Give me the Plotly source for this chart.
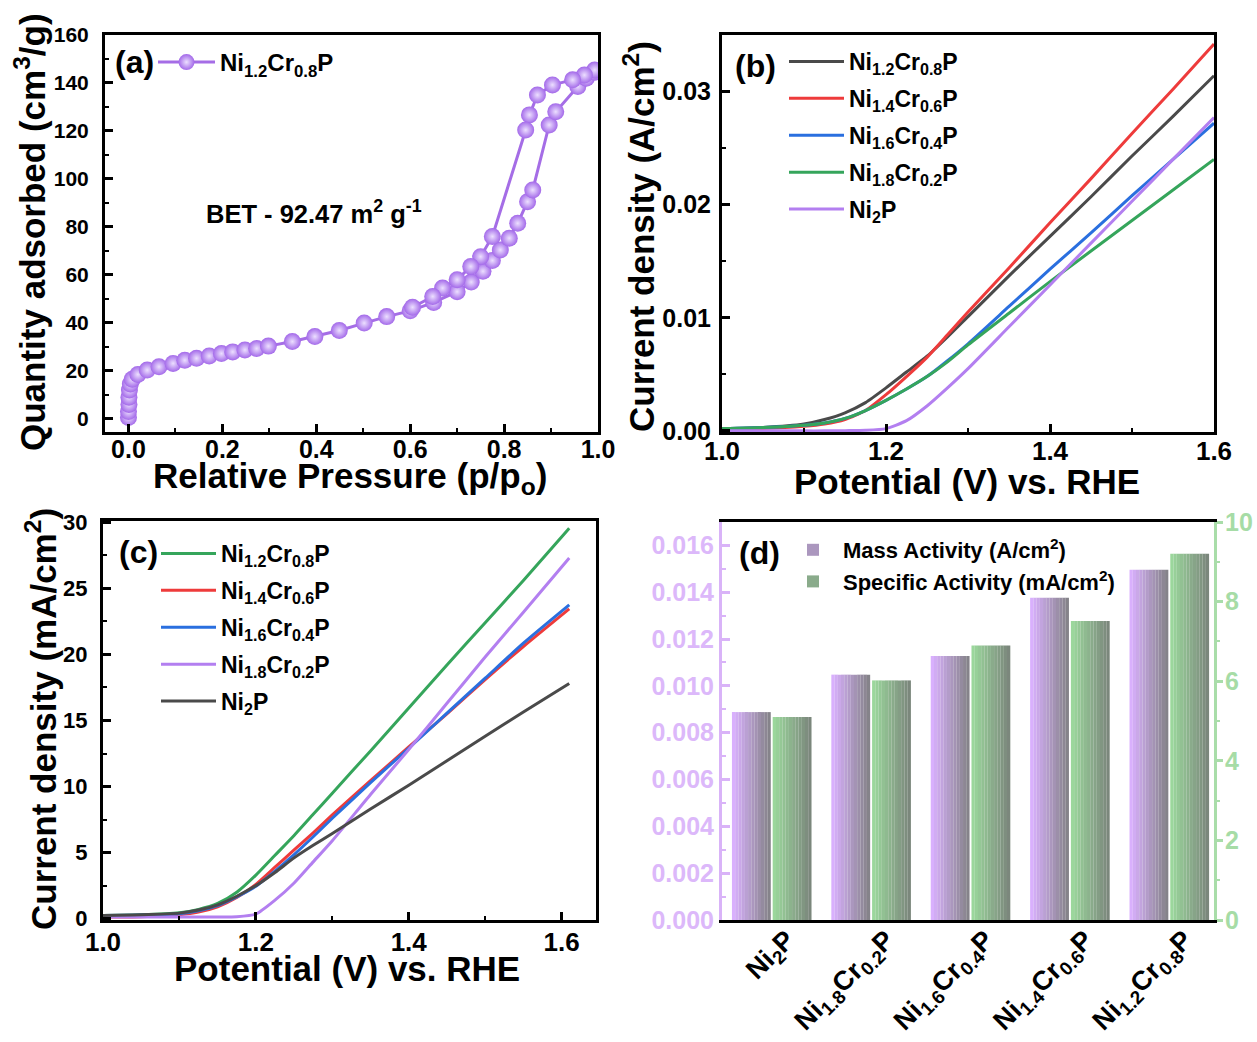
import plotly.graph_objects as go

W, H = 1257, 1042
FONT = "Liberation Sans, Arial, sans-serif"

# ---------------- (a) N2 adsorption-desorption isotherm ----------------
bet_p_ads = [0.000, 0.000, 0.001, 0.001, 0.002, 0.004, 0.008, 0.020, 0.040, 0.065,
             0.095, 0.120, 0.145, 0.172, 0.198, 0.222, 0.248, 0.273, 0.298, 0.349,
             0.397, 0.449, 0.502, 0.550, 0.600, 0.650, 0.700, 0.730, 0.755, 0.775,
             0.792, 0.811, 0.829, 0.850, 0.861, 0.896, 0.910, 0.957, 0.975, 0.993]
bet_q_ads = [0.5, 3.0, 6.0, 9.0, 12.0, 14.5, 16.5, 18.5, 20.3, 21.7,
             23.1, 24.4, 25.2, 26.2, 27.2, 27.9, 28.7, 29.3, 30.3, 32.2,
             34.3, 36.8, 39.9, 42.6, 45.0, 48.5, 53.0, 57.0, 61.5, 66.0,
             70.4, 75.3, 81.5, 90.5, 95.4, 122.5, 128.0, 138.5, 142.0, 144.5]
bet_p_des = [0.993, 0.971, 0.946, 0.903, 0.871, 0.854, 0.846, 0.775, 0.750, 0.729,
             0.700, 0.669, 0.648, 0.605]
bet_q_des = [145.4, 143.3, 141.3, 139.2, 135.0, 126.7, 120.4, 76.0, 67.6, 63.5,
             58.0, 54.5, 51.0, 46.5]

# ---------------- (b) LSV, A/cm2 ----------------
b_v = [1.0, 1.05, 1.1, 1.125, 1.15, 1.175, 1.2, 1.225, 1.25, 1.275, 1.3, 1.35, 1.4, 1.45, 1.5, 1.55, 1.6]
b_ni12 = [0.0002, 0.0003, 0.0006, 0.0010, 0.0016, 0.0025, 0.0038, 0.0052, 0.0066, 0.0083, 0.0101, 0.0137, 0.0172, 0.0207, 0.0243, 0.0278, 0.0314]
b_ni14 = [0.00015, 0.0002, 0.0004, 0.0006, 0.0010, 0.0018, 0.0032, 0.0048, 0.0065, 0.0085, 0.0105, 0.0144, 0.0184, 0.0223, 0.0263, 0.0302, 0.0342]
b_ni16 = [0.0002, 0.0003, 0.0005, 0.0007, 0.0011, 0.0018, 0.0027, 0.0037, 0.0048, 0.0062, 0.0077, 0.0110, 0.0143, 0.0175, 0.0208, 0.0240, 0.0272]
b_ni18 = [0.0002, 0.0003, 0.0005, 0.0007, 0.0011, 0.0018, 0.0027, 0.0037, 0.0048, 0.0061, 0.0076, 0.0104, 0.0132, 0.0159, 0.0186, 0.0213, 0.0240]
b_ni2 = [0.0000, 0.0000, 0.0000, 0.0000, 0.00002, 0.00005, 0.0002, 0.0009, 0.0022, 0.0038, 0.0055, 0.0092, 0.0129, 0.0166, 0.0203, 0.0240, 0.0277]

# ---------------- (c) LSV, mA/cm2 ----------------
c_v = [1.0, 1.05, 1.1, 1.125, 1.15, 1.175, 1.2, 1.225, 1.25, 1.275, 1.3, 1.35, 1.4, 1.45, 1.5, 1.55, 1.61]
c_ni12 = [0.25, 0.30, 0.45, 0.70, 1.15, 2.0, 3.3, 4.8, 6.3, 7.9, 9.5, 12.7, 15.95, 19.2, 22.4, 25.6, 29.55]
c_ni14 = [0.12, 0.15, 0.30, 0.50, 0.90, 1.6, 2.6, 3.9, 5.2, 6.5, 7.85, 10.45, 13.0, 15.5, 18.1, 20.6, 23.45]
c_ni16 = [0.25, 0.28, 0.38, 0.60, 1.00, 1.65, 2.45, 3.6, 4.85, 6.2, 7.6, 10.3, 12.9, 15.55, 18.2, 20.85, 23.75]
c_ni18 = [0.12, 0.12, 0.12, 0.12, 0.13, 0.15, 0.35, 1.4, 2.7, 4.3, 5.9, 9.4, 12.8, 16.3, 19.8, 23.2, 27.3]
c_ni2 = [0.25, 0.30, 0.42, 0.65, 1.05, 1.7, 2.5, 3.5, 4.6, 5.55, 6.45, 8.3, 10.1, 11.95, 13.8, 15.65, 17.8]

# ---------------- (d) activities ----------------
d_cats = ["Ni<sub>2</sub>P", "Ni<sub>1.8</sub>Cr<sub>0.2</sub>P", "Ni<sub>1.6</sub>Cr<sub>0.4</sub>P",
          "Ni<sub>1.4</sub>Cr<sub>0.6</sub>P", "Ni<sub>1.2</sub>Cr<sub>0.8</sub>P"]
mass_act = [0.00888, 0.01048, 0.01128, 0.01376, 0.01496]
spec_act = [5.10, 6.02, 6.90, 7.51, 9.20]

names = ["Ni<sub>1.2</sub>Cr<sub>0.8</sub>P", "Ni<sub>1.4</sub>Cr<sub>0.6</sub>P",
         "Ni<sub>1.6</sub>Cr<sub>0.4</sub>P", "Ni<sub>1.8</sub>Cr<sub>0.2</sub>P", "Ni<sub>2</sub>P"]

BLACK = "#4a4a4a"
RED = "#ee3b3b"
BLUE = "#2a6fdf"
GREEN = "#35a55b"
PURP = "#b37ff0"

fig = go.Figure()

# (a)
fig.add_trace(go.Scatter(
    x=bet_p_ads + bet_p_des, y=bet_q_ads + bet_q_des, mode="lines+markers",
    name="Ni<sub>1.2</sub>Cr<sub>0.8</sub>P", showlegend=True,
    line=dict(color="#a56de6", width=3),
    marker=dict(size=17, color="#a369e9", gradient=dict(type="radial", color="#ecdfff"),
                line=dict(width=0)),
    xaxis="x", yaxis="y", legend="legend"))

# (b)
for k, (yv, nm, col) in enumerate(zip([b_ni12, b_ni14, b_ni16, b_ni18, b_ni2], names,
                                      [BLACK, RED, BLUE, GREEN, PURP])):
    fig.add_trace(go.Scatter(x=b_v, y=yv, mode="lines", name=nm, legendgroup=f"b{k}",
                             line=dict(color=col, width=3, shape="spline", smoothing=0.6),
                             xaxis="x2", yaxis="y2", legend="legend2"))

# (c)
for k, (yv, nm, col) in enumerate(zip([c_ni12, c_ni14, c_ni16, c_ni18, c_ni2], names,
                                      [GREEN, RED, BLUE, PURP, BLACK])):
    fig.add_trace(go.Scatter(x=c_v, y=yv, mode="lines", name=nm, legendgroup=f"c{k}",
                             line=dict(color=col, width=3, shape="spline", smoothing=0.6),
                             xaxis="x3", yaxis="y3", legend="legend3"))


# (d) bars with horizontal gradient (sliced)
def lerp(c1, c2, t):
    a = [int(c1[i:i + 2], 16) for i in (1, 3, 5)]
    b = [int(c2[i:i + 2], 16) for i in (1, 3, 5)]
    return "#" + "".join(f"{round(a[k] + (b[k] - a[k]) * t):02x}" for k in range(3))


NS = 12
BW = 0.39
for vals, yax, off0, c1, c2, nm, grp in [
        (mass_act, "y4", -0.40, "#d9b0fd", "#85838a", "Mass Activity (A/cm<sup>2</sup>)", "d0"),
        (spec_act, "y5", 0.01, "#9bd79c", "#7b877c", "Specific Activity (mA/cm<sup>2</sup>)", "d1")]:
    for i in range(NS):
        t = i / (NS - 1)
        fig.add_trace(go.Bar(
            x=d_cats, y=vals, width=BW / NS * 1.02, offset=off0 + i * BW / NS,
            marker=dict(color=lerp(c1, c2, t), line=dict(width=0)),
            name=nm, showlegend=(i == NS // 2), legendgroup=grp,
            xaxis="x4", yaxis=yax, legend="legend4"))


def px_x(p):
    return p / W


def px_y(p):
    return 1 - p / H


frame = dict(showline=True, linecolor="black", linewidth=3, mirror=True,
             ticks="inside", ticklen=8, tickwidth=2.5, tickcolor="black",
             showgrid=False, zeroline=False, automargin=False)
minor_in = dict(ticks="inside", ticklen=4, tickwidth=2, tickcolor="black")


def tf(s, c="black"):
    return dict(family=FONT, size=s, color=c, weight="bold")


layout = dict(
    width=W, height=H, margin=dict(l=0, r=0, t=0, b=0),
    paper_bgcolor="white", plot_bgcolor="white", showlegend=True,
    font=dict(family=FONT, color="black", weight="bold"),
    barmode="overlay",
    xaxis=dict(domain=[px_x(105), px_x(598)], range=[-0.05, 1.0], dtick=0.2, tick0=0,
               tickformat=".1f", tickfont=tf(25), ticklabelstandoff=-7,
               minor=dict(dtick=0.1, **minor_in), anchor="y", **frame),
    yaxis=dict(domain=[px_y(432), px_y(35)], range=[-5.5, 160], dtick=20, tick0=0,
               tickfont=tf(21), ticklabelstandoff=9,
               minor=dict(dtick=10, **minor_in), anchor="x", **frame),
    xaxis2=dict(domain=[px_x(722), px_x(1214)], range=[1.0, 1.6], dtick=0.2, tick0=1.0,
                tickformat=".1f", tickfont=tf(26), ticklabelstandoff=-6,
                minor=dict(dtick=0.1, **minor_in), anchor="y2", **frame),
    yaxis2=dict(domain=[px_y(432), px_y(35)], range=[-0.0001, 0.035], dtick=0.01, tick0=0,
                tickformat=".2f", tickfont=tf(25), ticklabelstandoff=3,
                minor=dict(dtick=0.005, **minor_in), anchor="x2", **frame),
    xaxis3=dict(domain=[px_x(103), px_x(596)], range=[1.0, 1.645], dtick=0.2, tick0=1.0,
                tickformat=".1f", tickfont=tf(26), ticklabelstandoff=-3,
                minor=dict(dtick=0.1, **minor_in), anchor="y3", **frame),
    yaxis3=dict(domain=[px_y(920), px_y(521)], range=[-0.1, 30.1], dtick=5, tick0=0,
                tickfont=tf(22), ticklabelstandoff=8,
                minor=dict(dtick=2.5, **minor_in), anchor="x3", **frame),
    xaxis4=dict(domain=[px_x(722), px_x(1214)], range=[-0.5, 4.45], type="category",
                showline=True, linecolor="black", linewidth=3, mirror=True, ticks="",
                tickangle=-45, tickfont=tf(27), ticklabelstandoff=-10, ticklabelshift=15,
                showgrid=False, zeroline=False, automargin=False, anchor="y4"),
    yaxis4=dict(domain=[px_y(920), px_y(522)], range=[0, 0.017], dtick=0.002, tick0=0,
                tickformat=".3f", tickfont=tf(25, "#dcb8fa"), showline=True,
                linecolor="#d9b3f8", linewidth=3, ticks="inside", ticklen=8, tickwidth=2.5,
                tickcolor="#d9b3f8",
                minor=dict(dtick=0.001, ticks="inside", ticklen=4, tickwidth=2, tickcolor="#d9b3f8"),
                showgrid=False, zeroline=False, automargin=False, anchor="x4"),
    yaxis5=dict(domain=[px_y(920), px_y(522)], range=[0, 10], dtick=2, tick0=0,
                tickfont=tf(25, "#a6dca6"), showline=True, side="right", overlaying="y4",
                linecolor="#a9dda9", linewidth=3, ticks="outside", ticklen=6, tickwidth=2.5,
                tickcolor="#a9dda9", ticklabelstandoff=-3,
                minor=dict(dtick=1, ticks="outside", ticklen=3, tickwidth=2, tickcolor="#a9dda9"),
                showgrid=False, zeroline=False, automargin=False, anchor="x4"),
    legend=dict(x=px_x(153), y=px_y(40), xanchor="left", yanchor="top",
                bgcolor="rgba(0,0,0,0)", font=tf(24), itemwidth=57),
    legend2=dict(x=px_x(784), y=px_y(40), xanchor="left", yanchor="top",
                 bgcolor="rgba(0,0,0,0)", font=tf(23), itemwidth=55, tracegroupgap=4),
    legend3=dict(x=px_x(156), y=px_y(532), xanchor="left", yanchor="top",
                 bgcolor="rgba(0,0,0,0)", font=tf(23), itemwidth=55, tracegroupgap=4),
    legend4=dict(x=px_x(783), y=px_y(529), xanchor="left", yanchor="top",
                 bgcolor="rgba(0,0,0,0)", font=tf(22), itemwidth=50, tracegroupgap=0),
)
fig.update_layout(**layout)

ann = [
    ("(a)", 113, 62, 32, 0, "left"),
    ("(b)", 733, 66, 32, 0, "left"),
    ("(c)", 117, 552, 32, 0, "left"),
    ("(d)", 737, 553, 32, 0, "left"),
    ("BET - 92.47 m<sup>2</sup> g<sup>-1</sup>", 314, 212, 25.5, 0, "center"),
    ("Quantity adsorbed (cm<sup>3</sup>/g)", 30, 232, 35, -90, "center"),
    ("Relative Pressure (p/p<sub>o</sub>)", 350, 478, 35, 0, "center"),
    ("Current density (A/cm<sup>2</sup>)", 639, 237, 35, -90, "center"),
    ("Potential (V) vs. RHE", 967, 481, 35, 0, "center"),
    ("Current density (mA/cm<sup>2</sup>)", 41, 719, 35, -90, "center"),
    ("Potential (V) vs. RHE", 347, 968, 35, 0, "center"),
]
for txt, x, y, s, ang, xa in ann:
    fig.add_annotation(text=txt, x=px_x(x), y=px_y(y), xref="paper", yref="paper",
                       showarrow=False, textangle=ang, xanchor=xa, yanchor="middle",
                       font=tf(s))

fig.write_html("out.html")
